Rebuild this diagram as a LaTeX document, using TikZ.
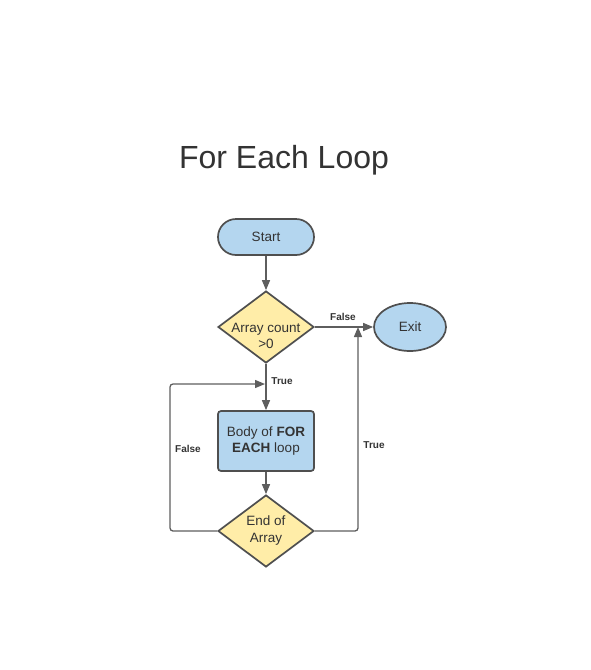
\documentclass[tikz,border=0pt]{standalone}
\usepackage{fontspec}
\setmainfont{Liberation Sans}
\usetikzlibrary{shapes.geometric,arrows.meta}
\definecolor{bluefill}{HTML}{B4D6EF}
\definecolor{yellowfill}{HTML}{FFEDA8}
\definecolor{strokec}{HTML}{4F4F4F}
\definecolor{linec}{HTML}{5E5E5E}
\definecolor{textc}{HTML}{333333}
\begin{document}
\begin{tikzpicture}[x=1pt,y=-1pt,
  shapebase/.style={draw=strokec,line width=1.7pt,text=textc,font=\fontsize{13.5}{16.5}\selectfont,align=center,inner sep=0pt},
  terminal/.style={shapebase,fill=bluefill,rounded corners=18pt,minimum width=96pt,minimum height=36pt},
  process/.style={shapebase,fill=bluefill,rounded corners=3pt,minimum width=96pt,minimum height=60pt},
  decision/.style={shapebase,fill=yellowfill,diamond,minimum width=96pt,minimum height=72pt,aspect=1.333},
  dtext/.style={text=textc,font=\fontsize{13.5}{16.5}\selectfont,align=center,inner sep=0pt},
  exitnode/.style={shapebase,fill=bluefill,ellipse,minimum width=72pt,minimum height=48pt},
  conn/.style={draw=linec,line width=1.3pt,-{Triangle[length=10pt,width=8pt]}},
  lbl/.style={text=textc,font=\bfseries\fontsize{10}{12}\selectfont,inner sep=0pt}
]
\useasboundingbox (0,0) rectangle (590,670);
\node[text=textc,font=\fontsize{32}{38}\selectfont] (title) at (284,160) {For Each Loop};
\node[terminal] (start) at (266,237) {Start};
\node[decision] (d1) at (266,327) {};
\node[dtext] (d1t) at (266,336) {Array count\\>0};
\node[exitnode] (exit) at (410,327) {Exit};
\node[process] (body) at (266,441) {Body of \textbf{FOR}\\\textbf{EACH} loop};
\node[decision] (d2) at (266,531) {};
\node[dtext] (d2t) at (266,530.5) {End of\\Array};
\coordinate (lefttop) at (170,384);
\coordinate (leftbot) at (170,531);
\coordinate (rightbot) at (358,531);
\coordinate (righttop) at (358,327);
\coordinate (joinleft) at (265,384);
\draw[conn] (start) -- (d1);
\draw[conn] (d1) -- (exit);
\draw[conn] (d1) -- (body);
\draw[conn] (body) -- (d2);
\draw[conn,rounded corners=3pt] (d2.west) -- (leftbot) -- (lefttop) -- (joinleft);
\draw[conn,rounded corners=3pt] (d2.east) -- (rightbot) -- (righttop);
\node[lbl] (lfalse1) at (343,317) {False};
\node[lbl] (ltrue1) at (282,381) {True};
\node[lbl] (lfalse2) at (188,449) {False};
\node[lbl] (ltrue2) at (374,445) {True};
\end{tikzpicture}
\end{document}
